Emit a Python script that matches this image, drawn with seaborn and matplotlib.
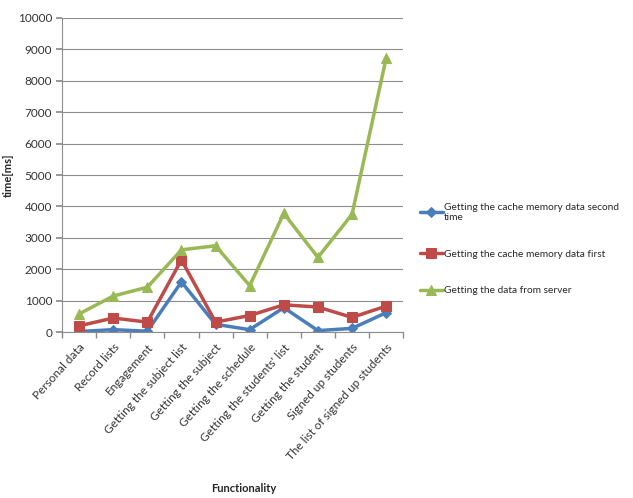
import matplotlib
matplotlib.use("Agg")
import matplotlib.pyplot as plt
import seaborn as sns
import numpy as np
import pandas as pd

categories = ["Personal data", "Record lists", "Engagement", "Getting the subject list",
              "Getting the subject", "Getting the schedule", "Getting the students' list",
              "Getting the student", "Signed up students", "The list of signed up students"]
cache_second = [20, 80, 30, 1600, 250, 80, 780, 50, 120, 620]
cache_first = [200, 450, 320, 2300, 320, 530, 870, 800, 470, 830]
server = [580, 1150, 1430, 2620, 2750, 1480, 3780, 2380, 3750, 8720]
series_names = ["Getting the cache memory data second\ntime",
                "Getting the cache memory data first",
                "Getting the data from server"]
yticks = list(range(0, 10001, 1000))

sns.set_theme(style="white")
plt.rcParams['font.family'] = ['Lato', 'DejaVu Sans']

fig = plt.figure(figsize=(6.33, 4.98), dpi=100)
ax = fig.add_axes([0.098, 0.333, 0.539, 0.631])

pos = np.arange(len(categories))
colors = ["#4A7EBB", "#BE4B48", "#98B954"]
markers = ["D", "s", "^"]
msizes = [5, 7, 7.5]
for vals, name, c, m, ms in zip([cache_second, cache_first, server], series_names, colors, markers, msizes):
    df = pd.DataFrame({"x": pos, "y": vals})
    sns.lineplot(data=df, x="x", y="y", ax=ax, color=c, marker=m, markersize=ms,
                 markeredgecolor=c, linewidth=2.5, label=name)

ax.set_xlim(-0.5, len(categories) - 0.5)
ax.set_ylim(0, 10000)
ax.set_yticks(yticks)
ax.set_yticklabels([str(v) for v in yticks], fontsize=8.5, color="#333333")
ax.yaxis.grid(True, color="#8c8c8c", linewidth=0.8)
ax.set_axisbelow(True)
ax.set_xticks(pos)
ax.set_xticklabels(categories, rotation=48, ha="right", rotation_mode="anchor", fontsize=8.5, color="#333333")
ax.set_xticks(np.arange(-0.5, len(categories), 1), minor=True)
ax.tick_params(axis="x", which="major", length=0, pad=7)
ax.tick_params(axis="x", which="minor", length=4, color="#8c8c8c", direction="out", bottom=True)
ax.tick_params(axis="y", length=4, color="#8c8c8c", direction="out", left=True, pad=3)
for s in ["top", "right"]:
    ax.spines[s].set_visible(False)
for s in ["left", "bottom"]:
    ax.spines[s].set_color("#8c8c8c")
    ax.spines[s].set_linewidth(0.8)

ax.set_ylabel("time[ms]", fontsize=8, fontweight="bold", labelpad=3)
ax.set_xlabel("")
fig.text(0.385, 0.012, "Functionality", fontsize=8, fontweight="bold", ha="center")

leg = ax.legend(loc="center left", bbox_to_anchor=(0.663, 0.5), bbox_transform=fig.transFigure,
                frameon=False, fontsize=7.3, handlelength=2.3, handletextpad=0.1, labelspacing=2.7,
                borderaxespad=0, borderpad=0)

fig.savefig("out.png", dpi=100)
